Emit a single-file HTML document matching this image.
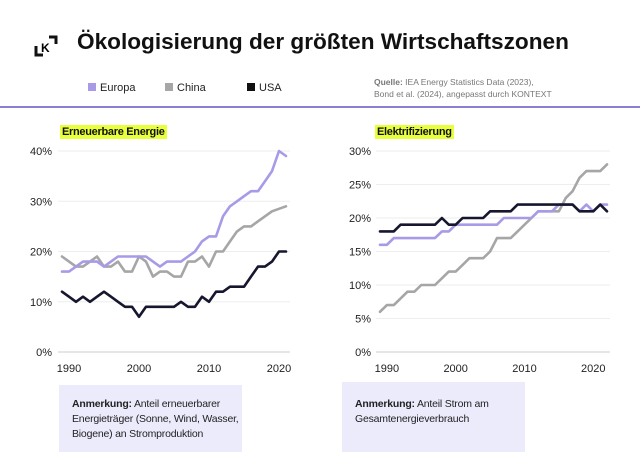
<!DOCTYPE html>
<html><head><meta charset="utf-8"><style>
body{margin:0;width:640px;height:452px;background:#fff;font-family:"Liberation Sans",sans-serif;position:relative;overflow:hidden}
.a{position:absolute}
.hl{background:#e8ff3c;font-weight:bold;font-size:11px;padding:1px 2px;color:#111;letter-spacing:-0.3px}
.box{position:absolute;background:#ecebfc;font-size:10.5px;line-height:15px;color:#222;letter-spacing:-0.2px}
</style></head><body>
<svg class="a" style="left:34px;top:34px" width="24" height="24" viewBox="0 0 24 24"><path d="M2 12v9h7" fill="none" stroke="#111" stroke-width="3"/><path d="M15 3h7v7" fill="none" stroke="#111" stroke-width="3"/><text x="7" y="18" font-size="12" font-weight="bold" font-family="Liberation Sans">K</text></svg>
<div class="a" style="left:77px;top:29px;font-size:22.6px;font-weight:bold;color:#111;letter-spacing:0px">Ökologisierung der größten Wirtschaftszonen</div>
<div class="a" style="left:88px;top:82px;font-size:11px;color:#222"><span style="display:inline-block;width:8px;height:8px;background:#a99ae8;margin-right:4px"></span>Europa</div>
<div class="a" style="left:165px;top:82px;font-size:11px;color:#222"><span style="display:inline-block;width:8px;height:8px;background:#a6a6a6;margin-right:4px"></span>China</div>
<div class="a" style="left:247px;top:82px;font-size:11px;color:#222"><span style="display:inline-block;width:8px;height:8px;background:#111;margin-right:4px"></span>USA</div>
<div class="a" style="left:374px;top:76px;font-size:8.5px;color:#777;line-height:12px"><b>Quelle:</b> IEA Energy Statistics Data (2023),<br>Bond et al. (2024), angepasst durch KONTEXT</div>
<div class="a" style="left:0;top:106px;width:640px;height:1.5px;background:#8a7fd0"></div>
<div class="a" style="left:60px;top:122px"><span class="hl">Erneuerbare Energie</span></div>
<div class="a" style="left:375px;top:122px"><span class="hl">Elektrifizierung</span></div>
<svg class="a" style="left:0;top:0" width="640" height="452" id="s" font-family="Liberation Sans" font-size="11" fill="#222"></svg>
<div class="box" style="left:59px;top:385px;width:183px;height:67px"><div style="padding:12px 0 0 13px"><b>Anmerkung:</b> Anteil erneuerbarer Energieträger (Sonne, Wind, Wasser, Biogene) an Stromproduktion</div></div>
<div class="box" style="left:342px;top:382px;width:183px;height:70px"><div style="padding:15px 0 0 13px"><b>Anmerkung:</b> Anteil Strom am Gesamtenergieverbrauch</div></div>
<script>
const s=document.getElementById('s');let h='';
function chart(x0,dx,gx1,gx2,max,step,yrs0,lx,ser){
 const y0=352,y1=151;const Y=v=>y0-(v/max)*(y0-y1);
 for(let v=0;v<=max;v+=step){const y=Y(v);h+=`<line x1="${gx1}" x2="${gx2}" y1="${y}" y2="${y}" stroke="${v==0?'#ccc':'#eee'}" stroke-width="1"/>`;h+=`<text x="${lx}" y="${y+4}" text-anchor="end">${v}%</text>`;}
 [1990,2000,2010,2020].forEach(yr=>{h+=`<text x="${x0+(yr-yrs0)*dx}" y="372" text-anchor="middle">${yr}</text>`});
 ser.forEach(([d,c])=>{h+=`<polyline fill="none" stroke="${c}" stroke-width="2.6" stroke-linejoin="round" stroke-linecap="round" points="${d.map((v,i)=>(x0+i*dx).toFixed(1)+','+Y(v).toFixed(1)).join(' ')}"/>`});
}
chart(62,7.0,58,290,40,10,1989,52,[
[[19,18,17,17,18,19,17,17,18,16,16,19,18,15,16,16,15,15,18,18,19,17,20,20,22,24,25,25,26,27,28,28.5,29],'#a6a6a6'],
[[16,16,17,18,18,18,17,18,19,19,19,19,19,18,17,18,18,18,19,20,22,23,23,27,29,30,31,32,32,34,36,40,39],'#a99ae8'],
[[12,11,10,11,10,11,12,11,10,9,9,7,9,9,9,9,9,10,9,9,11,10,12,12,13,13,13,15,17,17,18,20,20],'#16162e']]);
chart(380,6.88,376,610,30,5,1989,371,[
[[6,7,7,8,9,9,10,10,10,11,12,12,13,14,14,14,15,17,17,17,18,19,20,21,21,21,21,23,24,26,27,27,27,28],'#a6a6a6'],
[[16,16,17,17,17,17,17,17,17,18,18,19,19,19,19,19,19,19,20,20,20,20,20,21,21,21,22,22,22,21,22,21,22,22],'#a99ae8'],
[[18,18,18,19,19,19,19,19,19,20,19,19,20,20,20,20,21,21,21,21,22,22,22,22,22,22,22,22,22,21,21,21,22,21],'#16162e']]);
s.innerHTML=h;
</script>
</body></html>
